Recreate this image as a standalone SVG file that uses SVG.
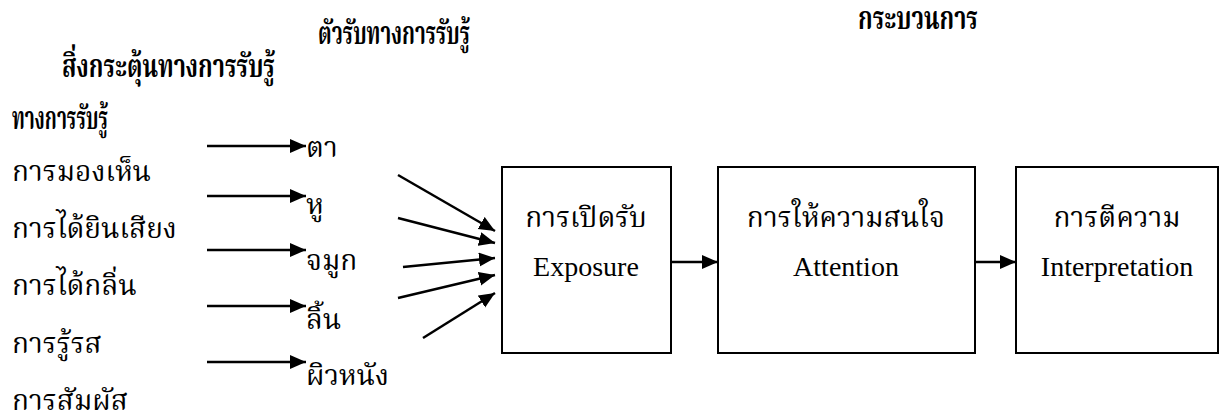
<svg xmlns="http://www.w3.org/2000/svg" width="1227" height="418" viewBox="0 0 1227 418">
<defs>
<style>
text{font-family:"Liberation Serif","Kinnari","Norasi","Noto Serif Thai","Noto Sans Thai",serif;fill:#000}
.h{font-weight:bold;font-size:32px}
.t{font-size:28px}
.c{text-anchor:middle}
.box{fill:#fff;stroke:#000;stroke-width:2}
.ar{stroke:#000;stroke-width:2.5;fill:none;marker-end:url(#ah)}
</style>
<marker id="ah" markerUnits="userSpaceOnUse" markerWidth="17" markerHeight="15" refX="16" refY="7" orient="auto">
<path d="M0,0 L16,7 L0,14 z" fill="#000"/>
</marker>
</defs>
<rect width="1227" height="418" fill="#fff"/>
<g id="headers">
<text class="h" x="858" y="29" textLength="120" lengthAdjust="spacingAndGlyphs">กระบวนการ</text>
<text class="h" x="318" y="44" textLength="152" lengthAdjust="spacingAndGlyphs">ตัวรับทางการรับรู้</text>
<text class="h" x="62" y="77" textLength="213" lengthAdjust="spacingAndGlyphs">สิ่งกระตุ้นทางการรับรู้</text>
<text class="h" x="12" y="129" textLength="96" lengthAdjust="spacingAndGlyphs">ทางการรับรู้</text>
</g>
<g id="stimuli">
<text class="t" x="12" y="181">การมองเห็น</text>
<text class="t" x="12" y="238">การได้ยินเสียง</text>
<text class="t" x="12" y="295">การได้กลิ่น</text>
<text class="t" x="12" y="353">การรู้รส</text>
<text class="t" x="12" y="410">การสัมผัส</text>
</g>
<g id="receptors">
<text class="t" x="306" y="157">ตา</text>
<text class="t" x="306" y="214">หู</text>
<text class="t" x="306" y="270">จมูก</text>
<text class="t" x="306" y="329">ลิ้น</text>
<text class="t" x="306" y="385">ผิวหนัง</text>
</g>
<g id="exposure">
<rect class="box" x="502" y="167" width="169" height="186"/>
<text class="t c" x="586" y="227">การเปิดรับ</text>
<text class="t c" x="586" y="276">Exposure</text>
</g>
<g id="attention">
<rect class="box" x="718" y="167" width="257" height="186"/>
<text class="t c" x="846" y="227">การให้ความสนใจ</text>
<text class="t c" x="846" y="276">Attention</text>
</g>
<g id="interpretation">
<rect class="box" x="1016" y="167" width="202" height="186"/>
<text class="t c" x="1117" y="227">การตีความ</text>
<text class="t c" x="1117" y="276">Interpretation</text>
</g>
<g id="connectors">
<line class="ar" x1="207" y1="146" x2="306" y2="146"/>
<line class="ar" x1="207" y1="196" x2="306" y2="196"/>
<line class="ar" x1="207" y1="250" x2="306" y2="250"/>
<line class="ar" x1="207" y1="306" x2="306" y2="306"/>
<line class="ar" x1="207" y1="362" x2="306" y2="362"/>
<line class="ar" x1="398" y1="175" x2="495" y2="231"/>
<line class="ar" x1="398" y1="218" x2="495" y2="243"/>
<line class="ar" x1="403" y1="267" x2="495" y2="258"/>
<line class="ar" x1="398" y1="298" x2="495" y2="275"/>
<line class="ar" x1="423" y1="338" x2="495" y2="293"/>
<line class="ar" x1="671" y1="262" x2="718" y2="262"/>
<line class="ar" x1="975" y1="262" x2="1016" y2="262"/>
</g>
</svg>
